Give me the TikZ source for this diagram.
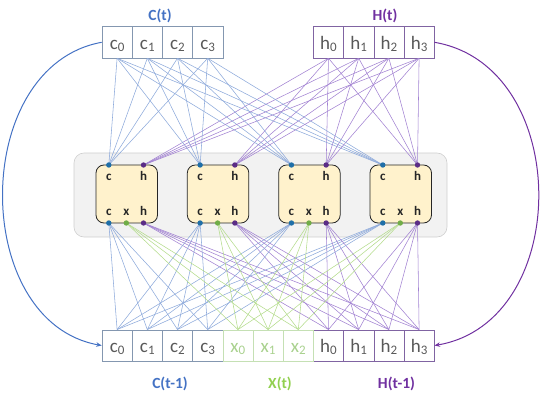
\documentclass[tikz,border=0pt]{standalone}
\usepackage{fontspec}
\setmainfont{Carlito}
\usetikzlibrary{arrows.meta}
\definecolor{cblue}{HTML}{4472C4}
\definecolor{cgreen}{HTML}{92D050}
\definecolor{cpurple}{HTML}{7030A0}
\definecolor{lblue}{HTML}{8EAADB}
\definecolor{lgreen}{HTML}{B4DC8C}
\definecolor{lpurple}{HTML}{A282D2}
\definecolor{dblue}{HTML}{1F6FA8}
\definecolor{dgreen}{HTML}{70AD47}
\definecolor{dpurple}{HTML}{5B2C86}
\definecolor{bxblue}{HTML}{8497B0}
\definecolor{bxgreen}{HTML}{C5E0B4}
\definecolor{bxpurple}{HTML}{8064A2}
\definecolor{txgray}{HTML}{595959}
\definecolor{txgreen}{HTML}{A9D18E}
\definecolor{cellfill}{HTML}{FFF2CC}
\definecolor{panelfill}{HTML}{F2F2F2}
\definecolor{panelline}{HTML}{CFCFCF}
\newcommand\mysub[1]{\raisebox{-2.2pt}{\fontsize{13}{13}\selectfont #1}}
\tikzset{
  vbox/.style={draw, line width=0.6pt, minimum width=30.2pt, minimum height=31.3pt,
    inner sep=0pt, text height=13.6pt, text depth=0pt, font=\fontsize{19}{19}\selectfont},
  cbox/.style={vbox, draw=bxblue, text=txgray},
  xbox/.style={vbox, draw=bxgreen, text=txgreen},
  hbox/.style={vbox, draw=bxpurple, text=txgray},
  ttl/.style={font=\fontsize{15.5}{15.5}\selectfont\bfseries},
  cellbox/.style={draw=black!85, line width=0.8pt, fill=cellfill, rounded corners=8pt,
    minimum width=61.5pt, minimum height=58pt, inner sep=0pt},
  cl/.style={anchor=base, inner sep=0pt, text=black!85, font=\fontsize{13}{13}\selectfont\bfseries},
  dotst/.style={circle, inner sep=0pt, minimum size=5.4pt},
  lc/.style={draw=lblue, line width=0.55pt},
  lx/.style={draw=lgreen, line width=0.55pt},
  lh/.style={draw=lpurple, line width=0.55pt},
  arc/.style={line width=1pt, -{Stealth[length=5.5pt,width=4.5pt]}}
}
\begin{document}
\begin{tikzpicture}[x=1pt,y=-1pt]
\useasboundingbox (0,0) rectangle (540,403);
% panel
\node[draw=panelline, fill=panelfill, rounded corners=10pt, line width=0.6pt,
  minimum width=373pt, minimum height=84pt, inner sep=0pt] (panel) at (260.5,195) {};
% top boxes
\foreach \i in {0,...,3}{
  \node[cbox] (ct\i) at ({117.1+30.2*\i},42.3) {c\mysub{\i}};
  \node[hbox] (ht\i) at ({328.5+30.2*\i},42.3) {h\mysub{\i}};
}
% bottom boxes
\foreach \i in {0,...,3}{
  \node[cbox] (cb\i) at ({117.1+30.2*\i},345.5) {c\mysub{\i}};
  \node[hbox] (hb\i) at ({328.5+30.2*\i},345.5) {h\mysub{\i}};
}
\foreach \i in {0,...,2}{
  \node[xbox] (xb\i) at ({237.9+30.2*\i},345.5) {x\mysub{\i}};
}
% titles
\node[ttl, text=cblue] (tct) at (160,16) {C(t)};
\node[ttl, text=cpurple] (tht) at (385,16) {H(t)};
\node[ttl, text=cblue] (tcb) at (170,384) {C(t-1)};
\node[ttl, text=cgreen] (txb) at (280,384) {X(t)};
\node[ttl, text=cpurple] (thb) at (396.5,384) {H(t-1)};
% dot coordinates
\foreach \i in {0,...,3}{
  \pgfmathsetmacro\l{96+91.33*\i}
  \coordinate (ctop\i) at (\l+12.8,165);
  \coordinate (htop\i) at (\l+47.5,165);
  \coordinate (cbot\i) at (\l+12.8,223);
  \coordinate (xbot\i) at (\l+30.3,223);
  \coordinate (hbot\i) at (\l+47.5,223);
}
% connectors
\foreach \i in {0,...,3}{
  \foreach \j in {0,...,3}{
    \draw[lc] (ct\i.south) -- (ctop\j);
    \draw[lh] (ht\i.south) -- (htop\j);
    \draw[lc] (cb\i.north) -- (cbot\j);
    \draw[lh] (hb\i.north) -- (hbot\j);
  }
}
\foreach \i in {0,...,2}{
  \foreach \j in {0,...,3}{
    \draw[lx] (xb\i.north) -- (xbot\j);
  }
}
% cells
\foreach \i in {0,...,3}{
  \pgfmathsetmacro\l{96+91.33*\i}
  \node[cellbox] (cell\i) at (\l+30.75,194) {};
  \node[cl] (lct\i) at (\l+12.8,180.7) {c};
  \node[cl] (lht\i) at (\l+47.5,180.7) {h};
  \node[cl] (lcb\i) at (\l+12.8,215.7) {c};
  \node[cl] (lxb\i) at (\l+30.3,215.7) {x};
  \node[cl] (lhb\i) at (\l+47.5,215.7) {h};
  \node[dotst, fill=dblue] (dct\i) at (ctop\i) {};
  \node[dotst, fill=dpurple] (dht\i) at (htop\i) {};
  \node[dotst, fill=dblue] (dcb\i) at (cbot\i) {};
  \node[dotst, fill=dgreen] (dxb\i) at (xbot\i) {};
  \node[dotst, fill=dpurple] (dhb\i) at (hbot\i) {};
}
% recurrent arcs
\draw[arc, draw=cblue] (ct0.west) .. controls (-30,66) and (-30,322) .. (cb0.west);
\draw[arc, draw=cpurple] (ht3.east) .. controls (573,66) and (573,322) .. (hb3.east);
\end{tikzpicture}
\end{document}
